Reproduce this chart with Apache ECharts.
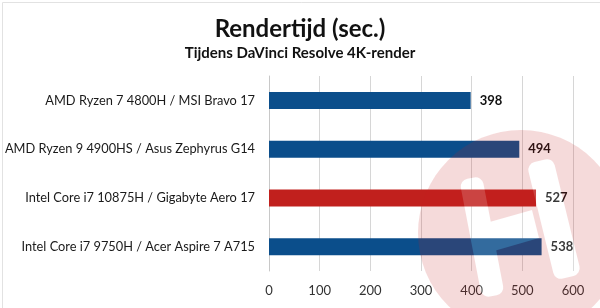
<!DOCTYPE html>
<html>
<head>
<meta charset="utf-8">
<script src="https://cdn.jsdelivr.net/npm/echarts@6/dist/echarts.min.js"></script>
<style>
  html, body {margin: 0; padding: 0; background: #fff;}
  #chart {width: 600px; height: 308px;}
</style>
</head>
<body>
<div id="chart"></div>
<script>
// data
const categories = [
	'AMD Ryzen 7 4800H / MSI Bravo 17',
	'AMD Ryzen 9 4900HS / Asus Zephyrus G14',
	'Intel Core i7 10875H / Gigabyte Aero 17',
	'Intel Core i7 9750H / Acer Aspire 7 A715'
];
const renderTimes = [398, 494, 527, 538];
const highlight = [false, false, true, false];

const BLUE = '#0b4e8b';
const RED = '#c1201d';
const FONT = 'Lato';

// watermark logo drawn on an offscreen canvas (pink disc with a white "H")
const makeLogo = () => {
	let c = document.createElement('canvas');
	c.width = 220;
	c.height = 220;
	let ctx = c.getContext('2d');
	ctx.fillStyle = 'rgb(200,30,30)';
	ctx.beginPath();
	ctx.arc(110, 110, 103, 0, Math.PI * 2);
	ctx.fill();
	ctx.globalCompositeOperation = 'source-atop';
	ctx.fillStyle = '#fff';
	const strip = (cx, cy, ang, w, h) => {
		ctx.save();
		ctx.translate(cx, cy);
		ctx.rotate(-ang);
		ctx.beginPath();
		ctx.roundRect(-w / 2, -h / 2, w, h, 8);
		ctx.fill();
		ctx.restore();
	};
	// canvas origin sits at page (411, 123)
	strip(482 - 411, 237 - 123, 0.19, 23, 120);
	strip(554 - 411, 219 - 123, 0.24, 27, 120);
	ctx.beginPath();
	ctx.moveTo(486 - 411, 223 - 123);
	ctx.lineTo(532 - 411, 210 - 123);
	ctx.lineTo(539 - 411, 238 - 123);
	ctx.lineTo(494 - 411, 251 - 123);
	ctx.closePath();
	ctx.fill();
	return c;
};

const chart = echarts.init(document.getElementById('chart'));

const option = {
	backgroundColor: '#fff',
	animation: false,
	title: [{
		text: 'Rendertijd (sec.)',
		left: 'center',
		top: 12,
		textStyle: {fontFamily: FONT, fontWeight: 'bold', fontSize: 24, color: '#111'}
	}, {
		text: 'Tijdens DaVinci Resolve 4K-render',
		left: 'center',
		top: 41,
		textStyle: {fontFamily: FONT, fontWeight: 'bold', fontSize: 15, color: '#111'}
	}],
	grid: {left: 269, right: 27, top: 76, bottom: 37},
	xAxis: {
		type: 'value',
		min: 0,
		max: 600,
		interval: 100,
		axisLine: {show: false},
		axisTick: {show: false},
		splitLine: {lineStyle: {color: '#d6d6d6', width: 1}},
		axisLabel: {fontFamily: FONT, fontSize: 13, color: '#333', margin: 13}
	},
	yAxis: {
		type: 'category',
		inverse: true,
		data: categories,
		axisLine: {lineStyle: {color: '#c8c8c8'}},
		axisTick: {length: 4, lineStyle: {color: '#c8c8c8'}},
		axisLabel: {fontFamily: FONT, fontSize: 12.8, color: '#1a1a1a', margin: 14}
	},
	series: [{
		type: 'bar',
		barWidth: 17,
		data: renderTimes.map((v, i) => ({
			value: v,
			itemStyle: {color: highlight[i] ? RED : BLUE}
		})),
		label: {
			show: true,
			position: 'right',
			distance: 9,
			fontFamily: FONT,
			fontWeight: 'bold',
			fontSize: 13,
			color: '#111'
		}
	}],
	graphic: [
		{
			type: 'image',
			z: 150, silent: true,
			x: 411, y: 123,
			style: {image: makeLogo(), width: 220, height: 220, opacity: 0.16}
		},
		{
			type: 'rect',
			left: 0, top: 0, z: 200, silent: true,
			shape: {x: 0.5, y: 0.5, width: 599, height: 307},
			style: {fill: 'none', stroke: '#e2e2e2', lineWidth: 1}
		}
	]
};

chart.setOption(option);
</script>
</body>
</html>
